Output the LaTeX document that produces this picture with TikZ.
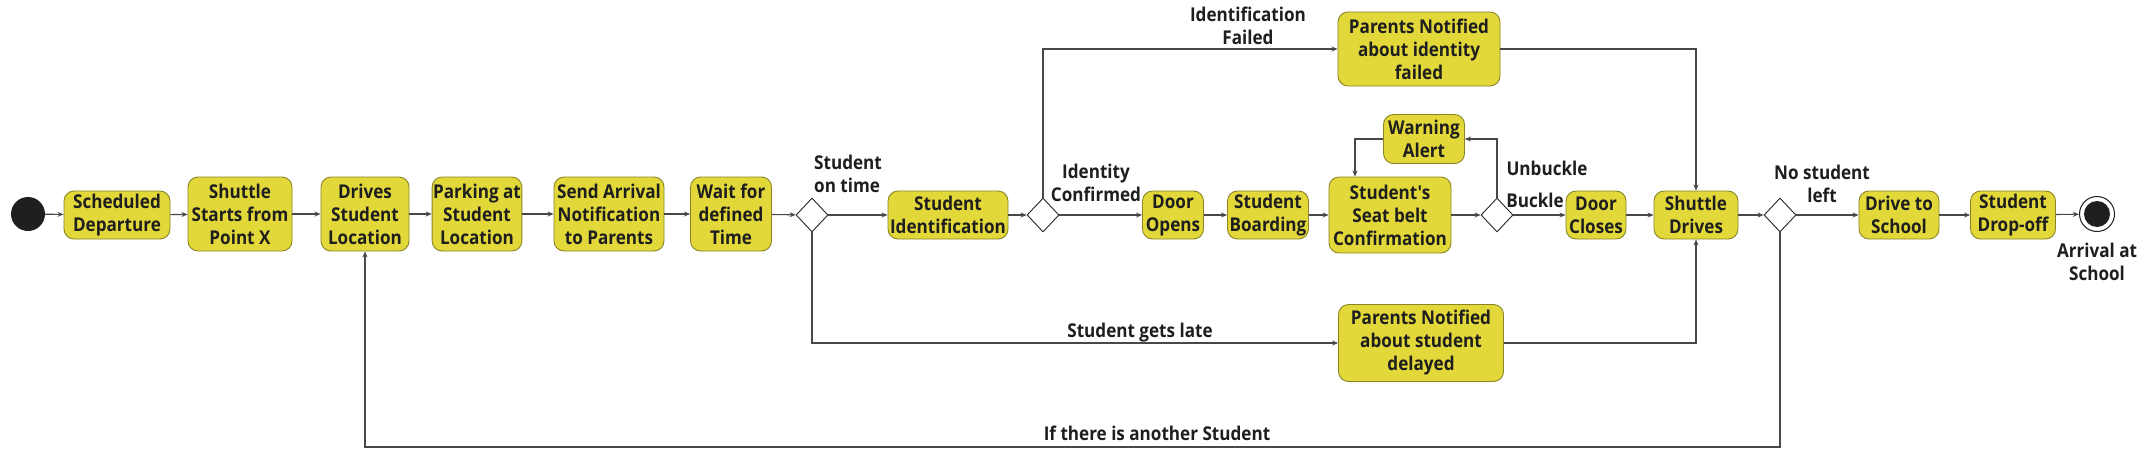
\documentclass[tikz,border=0pt]{standalone}
\usepackage{fontspec}
\setmainfont{Open Sans}[Ligatures=TeXOff, FakeStretch=0.9]
\usetikzlibrary{shapes.geometric,arrows.meta,calc}
\definecolor{boxfill}{HTML}{E2D83A}
\definecolor{boxline}{HTML}{8A8424}
\definecolor{lnc}{HTML}{484848}
\definecolor{txt}{HTML}{1E1E1E}
\begin{document}
\begin{tikzpicture}[x=1pt,y=-1pt,
  every node/.style={text=txt},
  act/.style={draw=boxline, fill=boxfill, rounded corners=10pt, align=center,
    font=\bfseries\fontsize{19}{23}\selectfont, inner sep=1pt, line width=0.9pt, minimum height=48pt},
  dec/.style={draw=black!85, fill=white, diamond, aspect=0.92, minimum width=32pt, minimum height=34pt, inner sep=0pt, line width=0.9pt},
  lbl/.style={font=\bfseries\fontsize{19}{23}\selectfont, align=center, inner sep=0pt},
  arr/.style={draw=lnc, line width=1.1pt, -{Stealth[length=6pt,width=5pt]}}]
\useasboundingbox[fill=white] (0,0) rectangle (2150,464);

\node[circle, fill=black!88, minimum size=34pt, inner sep=0pt] (start) at (28,214) {};
\node[act, minimum width=106pt] (sd) at (117,215) {Scheduled\\Departure};
\node[act, minimum width=104pt, minimum height=74pt] (ss) at (240,214) {Shuttle\\Starts from\\Point X};
\node[act, minimum width=88pt, minimum height=74pt] (dsl) at (365,214) {Drives\\Student\\Location};
\node[act, minimum width=85pt, minimum height=74pt] (psl) at (477,214) {Parking at\\Student\\Location};
\node[act, minimum width=110pt, minimum height=74pt] (san) at (609,214) {Send Arrival\\Notification\\to Parents};
\node[act, minimum width=81pt, minimum height=74pt] (wdt) at (731,214) {Wait for\\defined\\Time};
\node[dec] (d1) at (812,215) {};
\node[act, minimum width=120pt] (si) at (948,215) {Student\\Identification};
\node[dec] (d2) at (1043,215) {};
\node[act, minimum width=61pt] (do) at (1173,215) {Door\\Opens};
\node[act, minimum width=81pt] (sb) at (1268,215) {Student\\Boarding};
\node[act, minimum width=122pt, minimum height=76pt] (ssc) at (1390,215) {Student's\\Seat belt\\Confirmation};
\node[act, minimum width=81pt, minimum height=49pt] (wa) at (1424,139) {Warning\\Alert};
\node[dec] (d3) at (1497,215) {};
\node[act, minimum width=60pt] (dc) at (1596,215) {Door\\Closes};
\node[act, minimum width=84pt] (shd) at (1696,215) {Shuttle\\Drives};
\node[dec] (d4) at (1780,215) {};
\node[act, minimum width=80pt] (dts) at (1899,215) {Drive to\\School};
\node[act, minimum width=85pt] (sdo) at (2013,215) {Student\\Drop-off};
\node[circle, draw=black!88, line width=1pt, fill=white, minimum size=35pt, inner sep=0pt] (end) at (2097,214) {};
\node[circle, fill=black!88, minimum size=26pt, inner sep=0pt] (endin) at (end) {};
\node[act, minimum width=162pt, minimum height=74pt] (pn1) at (1419,49) {Parents Notified\\about identity\\failed};
\node[act, minimum width=165pt, minimum height=77pt] (pn2) at (1421,343) {Parents Notified\\about student\\delayed};

% labels
\node[lbl, anchor=west, align=left] (lontime) at (814,174) {Student\\on time};
\node[lbl] (lfail) at (1248,26) {Identification\\Failed};
\node[lbl] (lconf) at (1096,183) {Identity\\Confirmed};
\node[lbl] (lunb) at (1547,168) {Unbuckle};
\node[lbl] (lbuck) at (1535,200) {Buckle};
\node[lbl] (lnostu) at (1822,184) {No student\\left};
\node[lbl] (larr) at (2097,262) {Arrival at\\School};
\node[lbl] (llate) at (1140,333) {Student gets late};
\node[lbl] (lanother) at (1157,433) {If there is another Student};

% main flow
\draw[arr] (start) -- (sd);
\draw[arr] (sd) -- (ss);
\draw[arr] (ss) -- (dsl);
\draw[arr] (dsl) -- (psl);
\draw[arr] (psl) -- (san);
\draw[arr] (san) -- (wdt);
\draw[arr] (wdt) -- (d1);
\draw[arr] (d1) -- (si);
\draw[arr] (si) -- (d2);
\draw[arr] (d2) -- (do);
\draw[arr] (do) -- (sb);
\draw[arr] (sb) -- (ssc);
\draw[arr] (ssc) -- (d3);
\draw[arr] (d3) -- (dc);
\draw[arr] (dc) -- (shd);
\draw[arr] (shd) -- (d4);
\draw[arr] (d4) -- (dts);
\draw[arr] (dts) -- (sdo);
\draw[arr] (sdo) -- (end);

% branches
\draw[arr] (d2.north) |- (pn1.west);
\draw[arr] (pn1.east) -| (shd.north);
\draw[arr] (d1.south) |- (pn2.west);
\draw[arr] (pn2.east) -| (shd.south);
\draw[arr] (d3.north) |- (wa.east);
\draw[arr] (wa.west) -| ($(ssc.north)+(-35,0)$);
\coordinate (loop) at (1780,447);
\draw[arr] (d4.south) -- (loop) -| (dsl.south);
\end{tikzpicture}
\end{document}
